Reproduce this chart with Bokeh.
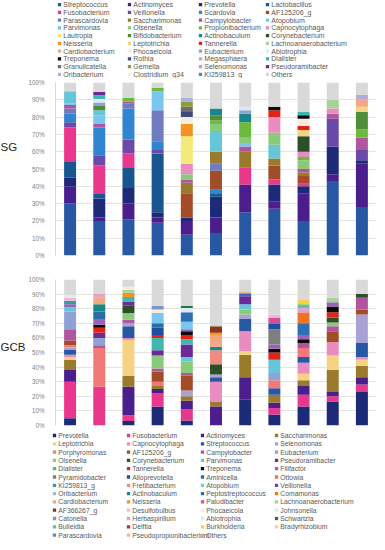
from bokeh.plotting import figure
from bokeh.models import ColumnDataSource, FactorRange, Range1d, FixedTicker, PrintfTickFormatter
from bokeh.layouts import column, row
from bokeh.embed import file_html
from bokeh.resources import INLINE
from bokeh.core.properties import value

SAMPLES = [str(i) for i in range(1, 12)]
PCT_TICKS = [0, 10, 20, 30, 40, 50, 60, 70, 80, 90, 100]

# ---------------- SG panel (stack order = legend order) ----------------
SG_GENERA = [
    "Streptococcus", "Actinomyces", "Prevotella", "Lactobacillus",
    "Fusobacterium", "Veillonella", "Scardovia", "AF125206_g",
    "Parascardovia", "Saccharimonas", "Campylobacter", "Atopobium",
    "Parvimonas", "Olsenella", "Propionibacterium", "Capnocytophaga",
    "Lautropia", "Bifidobacterium", "Actinobaculum", "Corynebacterium",
    "Neisseria", "Leptotrichia", "Tannerella", "Lachnoanaerobacterium",
    "Cardiobacterium", "Phocaeicola", "Eubacterium", "Abiotrophia",
    "Treponema", "Rothia", "Megasphaera", "Dialister",
    "Granulicatella", "Gemella", "Selenomonas", "Pseudoramibacter",
    "Oribacterium", "Clostridium_g34", "KI259813_g", "Others",
]
SG = {
    "Streptococcus":         [30, 20, 21, 19, 12, 13, 25, 27, 20, 43, 28],
    "Actinomyces":           [10, 2, 9, 3, 8, 9, 16, 4, 16, 4, 25],
    "Prevotella":            [5, 11, 9, 3, 2, 12, 0, 10, 4, 16, 2],
    "Lactobacillus":         [9, 3, 12, 34, 0, 2, 0, 0, 0, 0, 0],
    "Fusobacterium":         [20, 16, 8, 0, 0, 0, 10, 3, 1.5, 0, 0],
    "Veillonella":           [3, 6, 8, 2, 0, 0, 0, 0, 0, 16, 6],
    "Scardovia":             [5, 16, 18, 5, 0, 2, 0, 0, 0, 0, 0],
    "AF125206_g":            [0, 0, 0, 0, 14, 11, 0, 8, 4.5, 0, 0],
    "Parascardovia":         [3, 0, 3, 18, 0, 4, 0, 0, 0, 0, 0],
    "Saccharimonas":         [0, 0, 0, 0, 6, 7, 9, 4, 2, 0, 0],
    "Campylobacter":         [2, 2, 1, 0, 2, 0, 3, 0, 2, 3, 7],
    "Atopobium":             [1, 5, 0, 11, 0, 0, 2, 0, 0, 0, 0],
    "Parvimonas":            [7, 3, 0, 0, 0, 12, 0, 8, 0, 0, 0],
    "Olsenella":             [0, 0, 0, 0, 3, 4, 3, 7, 5, 0, 0],
    "Propionibacterium":     [0, 0, 2, 2, 0, 2, 9, 0, 2, 0, 5],
    "Capnocytophaga":        [0, 0, 0, 0, 6, 0, 0, 9, 3, 3, 0],
    "Lautropia":             [0, 0, 0, 0, 16, 0, 0, 0, 0, 0, 0],
    "Bifidobacterium":       [0, 2.4, 0, 0, 0, 3, 0, 0, 0, 0, 10],
    "Actinobaculum":         [0, 0, 0, 0, 0, 4, 5, 0, 0, 0, 0],
    "Corynebacterium":       [0, 0, 0, 0, 0, 0, 0, 0, 9, 0, 0],
    "Neisseria":             [0, 0, 0, 0, 7, 0, 0, 0, 0, 0, 0],
    "Leptotrichia":          [0, 0, 0, 0, 0, 0, 0, 0, 3.5, 0, 3],
    "Tannerella":            [0, 0, 0, 0, 0, 0, 0, 4, 2.5, 0, 0],
    "Lachnoanaerobacterium": [0, 0, 0, 0, 0, 0, 0, 0, 0, 5, 0],
    "Cardiobacterium":       [0, 0, 0, 0, 0, 0, 0, 0, 0, 0, 4],
    "Phocaeicola":           [0, 0, 0, 0, 4, 0, 0, 0, 4, 0, 0],
    "Eubacterium":           [0, 2, 0, 0, 0, 0, 2, 0, 0, 0, 0],
    "Abiotrophia":           [0, 2, 0, 0, 0, 0, 2, 0, 0, 0, 0],
    "Treponema":             [0, 0, 0, 0, 0, 0, 0, 2, 2, 0, 0],
    "Rothia":                [0, 0, 0, 0, 3, 0, 0, 0, 0, 0, 0],
    "Megasphaera":           [0, 0, 0, 0, 0, 0, 0, 0, 0, 0, 3],
    "Dialister":             [0, 2.3, 0, 0, 0, 0, 0, 0, 2, 0, 0],
    "Granulicatella":        [0, 0, 0, 0, 3, 0, 0, 0, 0, 0, 0],
    "Gemella":               [0, 0, 0, 0, 3, 0, 0, 0, 0, 0, 0],
    "Selenomonas":           [0, 0, 0, 0, 0, 0, 0, 0, 0, 0, 0],
    "Pseudoramibacter":      [0, 1.9, 0, 0, 0, 0, 0, 0, 0, 0, 0],
    "Oribacterium":          [0, 0, 0, 0, 2, 0, 0, 0, 0, 0, 0],
    "Clostridium_g34":       [0, 0, 0, 0, 0, 0, 0, 0, 0, 0, 0],
    "KI259813_g":            [0, 0, 0, 0, 0, 0, 0, 0, 0, 0, 0],
    "Others":                [5, 5.4, 9, 3, 9, 15, 14, 14, 17, 10, 7],
}

# ---------------- GCB panel ----------------
GCB_GENERA = [
    "Prevotella", "Fusobacterium", "Actinomyces", "Saccharimonas",
    "Leptotrichia", "Capnocytophaga", "Streptococcus", "Selenomonas",
    "Porphyromonas", "AF125206_g", "Campylobacter", "Eubacterium",
    "Olsenella", "Corynebacterium", "Parvimonas", "Pseudoramibacter",
    "Dialister", "Tannerella", "Treponema", "Filifactor",
    "Pyramidobacter", "Alloprevotella", "Aminicella", "Ottowia",
    "KI259813_g", "Fretibacterium", "Atopobium", "Veillonella",
    "Oribacterium", "Actinobaculum", "Peptostreptococcus", "Comamonas",
    "Cardiobacterium", "Neisseria", "Paludibacter", "Lachnoanaerobacterium",
    "AF366267_g", "Desulfobulbus", "Phocaeicola", "Johnsonella",
    "Catonella", "Herbaspirillum", "Abiotrophia", "Schwartzia",
    "Bulleidia", "Delftia", "Burkholderia", "Bradyrhizobium",
    "Parascardovia", "Pseudopropionibacterium", "Others",
]
GCB = {
    "Prevotella":              [5, 0, 3, 13, 3.5, 0, 18, 7.5, 13, 16.5, 23],
    "Fusobacterium":           [25, 26.5, 4, 9, 7.5, 0, 0, 4.5, 8, 3.5, 5],
    "Actinomyces":             [8, 0, 19.5, 3, 6, 13, 15, 3.5, 6, 3, 5],
    "Saccharimonas":           [7, 0, 7.5, 2.5, 3, 3.5, 15.5, 5.5, 4, 15, 8],
    "Leptotrichia":            [2, 0, 24.5, 0, 0, 0, 2.5, 0, 4.5, 10, 4],
    "Capnocytophaga":          [1.5, 0, 1.5, 0, 0, 13.5, 13.5, 0, 7.5, 9, 2],
    "Streptococcus":           [3.5, 0, 8, 0, 0, 3, 8.5, 4.5, 4, 0, 9.5],
    "Selenomonas":             [1.5, 0, 2, 0, 4, 2, 3, 0, 0, 0, 19.5],
    "Porphyromonas":           [1.5, 26.5, 0, 2.5, 0, 0, 0, 5.5, 6, 0, 0],
    "AF125206_g":              [3, 0, 0, 7, 10, 0, 0, 0, 0, 7.5, 3.5],
    "Campylobacter":           [8, 2, 2.5, 2, 2, 0, 0, 0, 3.5, 3.5, 8],
    "Eubacterium":             [12, 5, 0, 0, 0, 0, 0, 5, 0, 0, 0],
    "Olsenella":               [0, 0, 4.5, 9, 8, 0, 3.5, 0, 0, 2.5, 0],
    "Corynebacterium":         [0, 0, 5, 0, 0, 7, 0, 0, 0, 3.5, 2.5],
    "Parvimonas":              [3, 0, 0, 0, 3, 0, 3.5, 9, 0, 0, 0],
    "Pseudoramibacter":        [0, 3.5, 3, 3.5, 8.5, 0, 5.5, 0, 0, 0, 0],
    "Dialister":               [0, 0, 3, 8.5, 3.5, 0, 0, 0, 0, 0, 0],
    "Tannerella":              [0, 3.5, 0, 2, 3, 0, 0, 5, 0, 3.5, 0],
    "Treponema":               [0, 2, 0, 0, 2.5, 0, 0, 2.5, 2.5, 4, 0],
    "Filifactor":              [2, 3.5, 0, 0, 1.5, 0, 0, 3, 3, 3, 0],
    "Pyramidobacter":          [0, 0, 0, 0, 0, 0, 0, 10.5, 0, 0, 0],
    "Alloprevotella":          [0, 0, 0, 5, 0, 0, 0, 3.5, 0, 0, 0],
    "Aminicella":              [0, 5.5, 0, 3, 0, 0, 0, 0, 0, 0, 0],
    "Ottowia":                 [0, 0, 0, 0, 0, 0, 0, 0, 0, 0, 0],
    "KI259813_g":              [2.5, 0, 0, 0, 0, 0, 0, 0, 0, 0, 0],
    "Fretibacterium":          [0, 0, 0, 0, 0, 9.5, 0, 0, 0, 0, 0],
    "Atopobium":               [0, 0, 0, 7, 5, 0, 0, 0, 0, 0, 0],
    "Veillonella":             [0, 0, 0, 0, 0, 0, 0, 0, 0, 0, 0],
    "Oribacterium":            [0, 0, 0, 0, 0, 0, 0, 0, 0, 0, 0],
    "Actinobaculum":           [0, 5, 0, 0, 0, 2.5, 0, 0, 0, 0, 0],
    "Peptostreptococcus":      [0, 0, 0, 0, 6.5, 0, 2, 0, 8, 0, 0],
    "Comamonas":               [0, 0, 0, 0, 0, 0, 0, 0, 7, 0, 0],
    "Cardiobacterium":         [0, 4.5, 0, 0, 0, 7.5, 0, 0, 0, 0, 0],
    "Neisseria":               [0, 0, 3, 0, 0, 2, 0, 0, 0, 0, 0],
    "Paludibacter":            [0, 0, 0, 0, 0, 0, 0, 4.5, 0, 0, 0],
    "Lachnoanaerobacterium":   [0, 0, 2, 0, 0, 0, 0, 0, 0, 3, 0],
    "AF366267_g":              [0, 0, 0, 0, 0, 4.5, 0, 0, 0, 0, 0],
    "Desulfobulbus":           [2, 0, 0, 0, 0, 0, 0, 2, 0, 0, 0],
    "Phocaeicola":             [0, 0, 2, 2.5, 0, 0, 0, 0, 0, 0, 0],
    "Johnsonella":             [0, 0, 0, 0, 3, 0, 0, 0, 0, 0, 0],
    "Catonella":               [0, 0, 0, 2.5, 0, 0, 0, 0, 0, 0, 0],
    "Herbaspirillum":          [0, 2.5, 0, 0, 0, 0, 0, 0, 3.5, 0, 0],
    "Abiotrophia":             [2, 0, 0, 0, 0, 0, 0, 0, 0, 0, 0],
    "Schwartzia":              [0, 0, 0, 0, 1.5, 0, 0, 0, 0, 0, 0],
    "Bulleidia":               [0, 0, 0, 0, 0, 0, 0, 0, 2.5, 0, 0],
    "Delftia":                 [0, 0, 0, 0, 0, 0, 0, 0, 0, 0, 0],
    "Burkholderia":            [0, 0, 0, 0, 0, 0, 0, 0, 3, 0, 0],
    "Bradyrhizobium":          [0, 0, 0, 0, 0, 0, 0, 0, 0, 0, 0],
    "Parascardovia":           [0, 0, 0, 0, 0, 0, 0, 0, 0, 0, 0],
    "Pseudopropionibacterium": [0, 0, 0, 0, 0, 0, 1.5, 0, 0, 0, 0],
    "Others":                  [10.5, 10, 5, 18, 18, 32, 8, 24, 14, 12.5, 10],
}

PANEL_LABELS = ["SG", "GCB"]

COLORS = {
    "Streptococcus": "#2857a4", "Actinomyces": "#4b1e8e", "Prevotella": "#1c2a78",
    "Lactobacillus": "#17568e", "Fusobacterium": "#e8378c", "Veillonella": "#6a4aa8",
    "Scardovia": "#2f85cf", "AF125206_g": "#a24d27", "Parascardovia": "#6f7cc0",
    "Saccharimonas": "#9a7a2c", "Campylobacter": "#b0559e", "Atopobium": "#79c6ee",
    "Parvimonas": "#66c6d8", "Olsenella": "#8acb7a", "Propionibacterium": "#6cbb3c",
    "Capnocytophaga": "#ea8cc0", "Lautropia": "#f3ea78", "Bifidobacterium": "#4f8f3a",
    "Actinobaculum": "#19878a", "Corynebacterium": "#2c4e28", "Neisseria": "#f39322",
    "Leptotrichia": "#f7d282", "Tannerella": "#e42218", "Lachnoanaerobacterium": "#a6d496",
    "Cardiobacterium": "#f2a882", "Phocaeicola": "#f8ecdc", "Eubacterium": "#8ea2d6",
    "Abiotrophia": "#e2e8f2", "Treponema": "#0a0a0a", "Rothia": "#3c4a7c",
    "Megasphaera": "#b7a9d8", "Dialister": "#3fb6b0", "Granulicatella": "#6e6e6e",
    "Gemella": "#8f9a3c", "Selenomonas": "#aaa2d6", "Pseudoramibacter": "#6b2a98",
    "Oribacterium": "#a6b4da", "Clostridium_g34": "#f4f0dc", "KI259813_g": "#2aa29e",
    "Others": "#d9d9d9",
    "Porphyromonas": "#f07a78", "Filifactor": "#9a62b8", "Pyramidobacter": "#7f7f7f",
    "Alloprevotella": "#1f4ea2", "Aminicella": "#2a6ea6", "Ottowia": "#e27a52",
    "Fretibacterium": "#f08a80", "Peptostreptococcus": "#2f6fb5", "Comamonas": "#f07424",
    "Paludibacter": "#d2509e", "AF366267_g": "#8c3420", "Desulfobulbus": "#f2b6d2",
    "Johnsonella": "#dfeaf0", "Catonella": "#7a96c8", "Herbaspirillum": "#e4a2c6",
    "Schwartzia": "#1c7a4c", "Bulleidia": "#62c2a2", "Delftia": "#c42250",
    "Burkholderia": "#f2d24c", "Bradyrhizobium": "#f6cca4", "Pseudopropionibacterium": "#f8b494",
}

FONT = "Liberation Sans"
W = 369
LAB_W = 25
AX_W = 22
FRAME_W = 321


def legend_fig(genera, height, col_x, row_y0, row_dy, font_size):
    p = figure(width=W, height=height, x_range=Range1d(0, W), y_range=Range1d(height, 0),
               x_axis_type=None, y_axis_type=None, output_backend="svg",
               toolbar_location=None, min_border=0)
    p.grid.visible = False
    p.outline_line_color = None
    xs = [col_x[i % 4] for i in range(len(genera))]
    ys = [row_y0 + (i // 4) * row_dy for i in range(len(genera))]
    src = ColumnDataSource(dict(x=xs, y=ys, tx=[x + 3.8 for x in xs], name=genera,
                                color=[COLORS[g] for g in genera]))
    p.rect(x="x", y="y", width=3.3, height=3.3, fill_color="color", line_color=None, source=src)
    p.text(x="tx", y="y", text="name", source=src, text_font=value(FONT),
           text_font_size=font_size, text_color="#595959", text_baseline="middle")
    return p


def label_fig(label, label_y, frame_h, btop, bbot):
    p = figure(frame_width=LAB_W, frame_height=frame_h, x_range=Range1d(0, LAB_W),
               y_range=Range1d(0, 100), x_axis_type=None, y_axis_type=None,
               output_backend="svg", toolbar_location=None,
               min_border_left=0, min_border_right=0, min_border_top=btop, min_border_bottom=bbot)
    p.grid.visible = False
    p.outline_line_color = None
    p.text(x=[0], y=[label_y], text=[label], text_font=value(FONT), text_font_size="11.5px",
           text_color="#262626", text_baseline="middle")
    return p


def bar_fig(genera, data, frame_h, btop, bbot):
    p = figure(frame_width=FRAME_W, frame_height=frame_h,
               x_range=FactorRange(*SAMPLES), y_range=Range1d(0, 100),
               output_backend="svg", toolbar_location=None,
               min_border_left=AX_W, min_border_right=1, min_border_top=btop, min_border_bottom=bbot)
    src = dict(sample=SAMPLES)
    src.update({g: data[g] for g in genera})
    p.vbar_stack(genera, x="sample", width=0.41, color=[COLORS[g] for g in genera],
                 line_color=None, source=ColumnDataSource(src))
    p.xaxis.visible = False
    p.xgrid.visible = False
    p.ygrid.ticker = FixedTicker(ticks=PCT_TICKS)
    p.ygrid.grid_line_color = "#d9d9d9"
    p.ygrid.grid_line_width = 0.7
    ax = p.yaxis[0]
    ax.ticker = FixedTicker(ticks=PCT_TICKS)
    ax.formatter = PrintfTickFormatter(format="%d%%")
    ax.major_tick_line_color = None
    ax.minor_tick_line_color = None
    ax.axis_line_color = "#d9d9d9"
    ax.major_label_text_font = FONT
    ax.major_label_text_font_size = "6.3px"
    ax.major_label_text_color = "#7f7f7f"
    ax.major_label_standoff = 5
    p.outline_line_color = None
    return p


top_leg = legend_fig(SG_GENERA, 78, [59, 129, 200, 267], 4.2, 7.75, "7px")
sg_row = row(label_fig(PANEL_LABELS[0], 63, 173, 4, 5),
             bar_fig(SG_GENERA, SG, 173, 4, 5), spacing=0)
gcb_row = row(label_fig(PANEL_LABELS[1], 54, 146, 19, 3),
              bar_fig(GCB_GENERA, GCB, 146, 19, 3), spacing=0)
bot_leg = legend_fig(GCB_GENERA, 114, [54, 128, 202, 276], 7, 8.3, "6.8px")

layout = column(top_leg, sg_row, gcb_row, bot_leg, spacing=0)
open("out.html", "w").write(file_html(layout, INLINE))
